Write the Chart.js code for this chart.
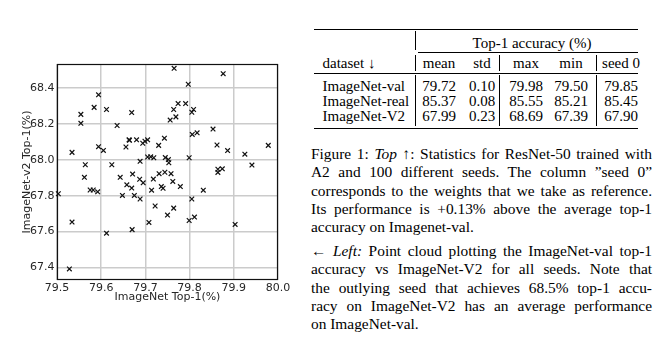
<!DOCTYPE html>
<html>
<head>
<meta charset="utf-8">
<script src="https://cdn.jsdelivr.net/npm/chart.js@4.4.0/dist/chart.umd.min.js"></script>
<style>
    html, body { margin: 0; padding: 0; background: #fff; }
    body { width: 671px; height: 343px; position: relative; overflow: hidden; font-family: "Liberation Serif", serif; color: #000; }
    #plotBox { position: absolute; left: 0; top: 0; width: 300px; height: 343px; }
    .cell { position: absolute; height: 16px; line-height: 16px; font-size: 15px; white-space: nowrap; }
    .rule { position: absolute; background: #000; }
    #caption { position: absolute; left: 311px; top: 145px; width: 341px; font-size: 15.4px; line-height: 18.3px; }
    #caption .ln { text-align: justify; text-align-last: justify; height: 18.3px; overflow: visible; }
    #caption .ln.last { text-align-last: left; }
    #caption .ln.gap { margin-top: 5.7px; }
</style>
</head>
<body>
<div id="plotBox"><canvas id="seedChart"></canvas></div>
<div id="table"></div>
<div id="caption">
    <div class="ln">Figure 1: <i>Top</i> ↑: Statistics for ResNet-50 trained with</div>
    <div class="ln">A2 and 100 different seeds. The column ”seed 0”</div>
    <div class="ln">corresponds to the weights that we take as reference.</div>
    <div class="ln">Its performance is +0.13% above the average top-1</div>
    <div class="ln last">accuracy on Imagenet-val.</div>
    <div class="ln gap">← <i>Left:</i> Point cloud plotting the ImageNet-val top-1</div>
    <div class="ln">accuracy vs ImageNet-V2 for all seeds. Note that</div>
    <div class="ln">the outlying seed that achieves 68.5% top-1 accu-</div>
    <div class="ln">racy on ImageNet-V2 has an average performance</div>
    <div class="ln last">on ImageNet-val.</div>
</div>
<script>
// one point per seed: ImageNet-val top-1 (x) vs ImageNet-V2 top-1 (y)
const valTop1 = [
    79.765, 79.876, 79.797, 79.594, 79.584, 79.612, 79.554, 79.669, 79.774, 79.791,
    79.764, 79.809, 79.805, 79.769, 79.756, 79.554, 79.636, 79.853, 79.806, 79.817,
    79.743, 79.663, 79.664, 79.680, 79.694, 79.699, 79.705, 79.594, 79.605, 79.656,
    79.730, 79.534, 79.862, 79.886, 79.978, 79.925, 79.688, 79.705, 79.712, 79.719,
    79.745, 79.752, 79.753, 79.799, 79.564, 79.624, 79.941, 79.562, 79.643, 79.671,
    79.687, 79.695, 79.718, 79.731, 79.744, 79.758, 79.762, 79.779, 79.714, 79.736,
    79.740, 79.831, 79.864, 79.874, 79.864, 79.658, 79.669, 79.575, 79.582, 79.592,
    79.503, 79.648, 79.675, 79.688, 79.722, 79.764, 79.805, 79.750, 79.708, 79.799,
    79.811, 79.534, 79.612, 79.670, 79.903, 79.528
];
const v2Top1 = [
    68.511, 68.481, 68.422, 68.363, 68.293, 68.281, 68.254, 68.264, 68.314, 68.314,
    68.281, 68.281, 68.266, 68.240, 68.222, 68.204, 68.192, 68.172, 68.142, 68.151,
    68.121, 68.112, 68.109, 68.112, 68.093, 68.104, 68.112, 68.074, 68.053, 68.072,
    68.081, 68.042, 68.083, 68.052, 68.081, 68.032, 67.992, 68.016, 68.017, 68.012,
    68.013, 68.002, 67.984, 68.012, 67.973, 67.973, 67.971, 67.903, 67.903, 67.921,
    67.892, 67.872, 67.893, 67.923, 67.931, 67.923, 67.880, 67.851, 67.831, 67.851,
    67.842, 67.831, 67.948, 67.950, 67.930, 67.861, 67.843, 67.832, 67.832, 67.822,
    67.811, 67.802, 67.802, 67.782, 67.743, 67.731, 67.782, 67.692, 67.651, 67.662,
    67.681, 67.653, 67.591, 67.611, 67.640, 67.392
];
const xTicks = [79.5, 79.6, 79.7, 79.8, 79.9, 80.0];
const yTicks = [67.4, 67.6, 67.8, 68.0, 68.2, 68.4];
const xTitle = 'ImageNet Top-1(%)';
const yTitle = 'ImageNet-v2 Top-1(%)';

// table on the right
const tableHead = 'Top-1 accuracy (%)';
const tableCols = ['mean', 'std', 'max', 'min', 'seed 0'];
const datasetNames = ['ImageNet-val', 'ImageNet-real', 'ImageNet-V2'];
const meanAcc = ['79.72', '85.37', '67.99'];
const stdAcc = ['0.10', '0.08', '0.23'];
const maxAcc = ['79.98', '85.55', '68.69'];
const minAcc = ['79.50', '85.21', '67.39'];
const seed0Acc = ['79.85', '85.45', '67.90'];

let axisFont = { family: 'DejaVu Sans', size: 11 };
let axisColor = '#262626';

const frameBox = {
    id: 'frameBox',
    beforeDatasetsDraw(chart) {
        const { ctx, chartArea: { left, top, right, bottom } } = chart;
        ctx.save();
        ctx.strokeStyle = '#111';
        ctx.lineWidth = 1.2;
        ctx.strokeRect(Math.round(left) + 0.5, Math.round(top) + 0.5, Math.round(right - left) - 1, Math.round(bottom - top) - 1);
        ctx.restore();
    }
};

const config = {
    type: 'scatter',
    data: {
        datasets: [{
            data: valTop1.map((v, i) => ({ x: v, y: v2Top1[i] })),
            pointStyle: 'crossRot',
            radius: 3.3,
            hoverRadius: 3.3,
            borderWidth: 1.2,
            borderColor: '#111',
            backgroundColor: '#111',
            clip: false
        }]
    },
    options: {
        animation: false,
        responsive: true,
        maintainAspectRatio: false,
        events: [],
        layout: {
            padding: { left: 0, top: 64, right: 22, bottom: 38 }
        },
        plugins: {
            legend: { display: false },
            tooltip: { enabled: false }
        },
        scales: {
            x: {
                type: 'linear',
                min: 79.5,
                max: 80.0,
                afterBuildTicks: (s) => { s.ticks = xTicks.map(v => ({ value: v })); },
                afterFit: (s) => { s.height = 25; },
                grid: { color: '#cbcbcb', lineWidth: 1.5, drawTicks: false },
                border: { display: false },
                ticks: {
                    padding: 2,
                    color: axisColor,
                    font: axisFont,
                    maxRotation: 0,
                    autoSkip: false,
                    callback: (v) => Number(v).toFixed(1)
                },
                title: { display: true, text: xTitle, color: axisColor, font: axisFont, padding: { top: 0, bottom: 1 } }
            },
            y: {
                type: 'linear',
                min: 67.33,
                max: 68.535,
                afterBuildTicks: (s) => { s.ticks = yTicks.map(v => ({ value: v })); },
                afterFit: (s) => { s.width = 57; },
                grid: { color: '#cbcbcb', lineWidth: 1.5, drawTicks: false },
                border: { display: false },
                ticks: {
                    padding: 2.5,
                    color: axisColor,
                    font: axisFont,
                    autoSkip: false,
                    callback: (v) => Number(v).toFixed(1)
                },
                title: { display: true, text: yTitle, color: axisColor, font: axisFont, padding: { top: 21, bottom: 0 } }
            }
        }
    },
    plugins: [frameBox]
};

new Chart('seedChart', config);

// table drawn as positioned text + booktabs rules
const table = document.getElementById('table');
function cell(text, x, y, align) {
    const d = document.createElement('div');
    d.className = 'cell';
    d.textContent = text;
    d.style.top = (y - 8) + 'px';
    if (align === 'left') {
        d.style.left = x + 'px';
    } else {
        d.style.left = (x - 60) + 'px';
        d.style.width = '120px';
        d.style.textAlign = 'center';
    }
    table.appendChild(d);
}
function rule(x, y, w, h) {
    const d = document.createElement('div');
    d.className = 'rule';
    d.style.left = x + 'px';
    d.style.top = y + 'px';
    d.style.width = w + 'px';
    d.style.height = h + 'px';
    table.appendChild(d);
}
const colX = [439, 482, 526, 571, 621];
const rowY = [86, 101, 116];
rule(314, 28.5, 324, 1.2);
rule(418, 51.5, 220, 0.7);
rule(314, 72.5, 324, 0.8);
rule(314, 127.5, 324, 1.2);
// vertical bars
rule(415, 31, 0.8, 19);
[415, 499, 596].forEach(x => { rule(x, 55, 0.8, 16); rule(x, 75, 0.8, 51); });

cell(tableHead, 532, 43);
cell('dataset ↓', 322.5, 63, 'left');
tableCols.forEach((c, i) => cell(c, colX[i], 63));
const cols = [meanAcc, stdAcc, maxAcc, minAcc, seed0Acc];
datasetNames.forEach((name, r) => {
    cell(name, 322.5, rowY[r], 'left');
    cols.forEach((col, i) => cell(col[r], colX[i], rowY[r]));
});
</script>
</body>
</html>
